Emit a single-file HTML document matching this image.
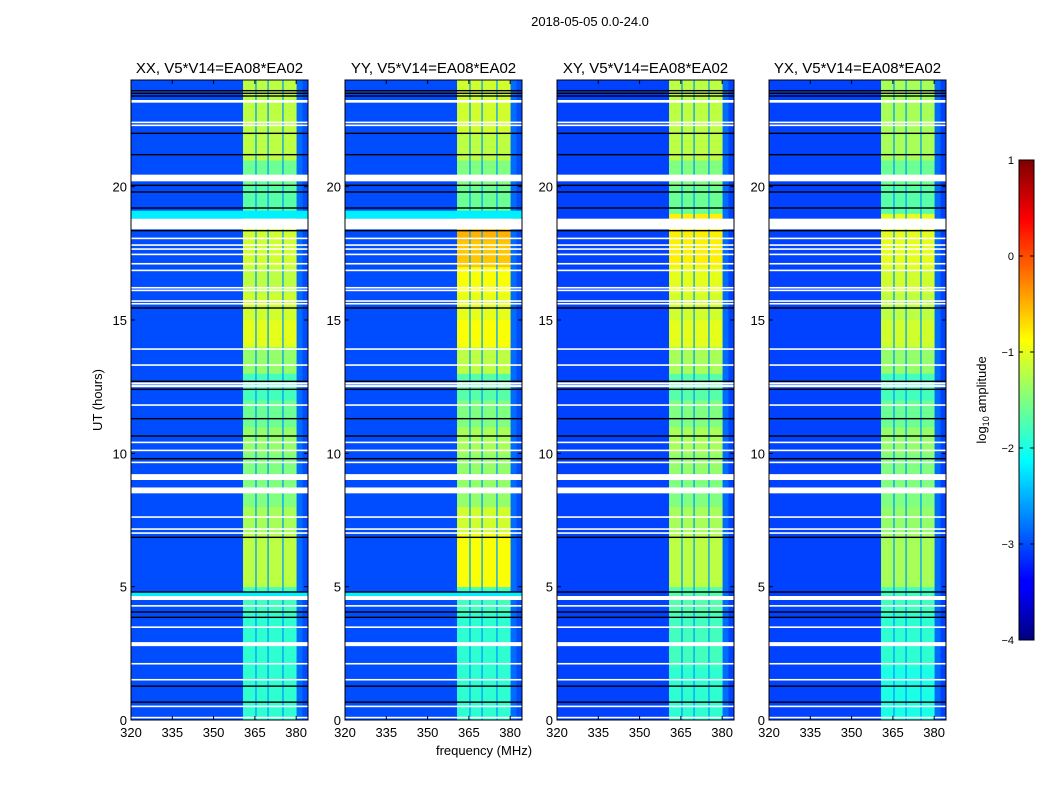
<!DOCTYPE html>
<html><head><meta charset="utf-8"><style>
body{margin:0;background:#fff;width:1050px;height:800px;overflow:hidden;font-family:"Liberation Sans",sans-serif}
svg text{font-family:"Liberation Sans",sans-serif}
</style></head><body>
<svg id="chart" width="1050" height="800" xmlns="http://www.w3.org/2000/svg">
<defs>
<linearGradient id="jet" x1="0" y1="1" x2="0" y2="0">
<stop offset="0" stop-color="#00007f"/><stop offset="0.11" stop-color="#0000ff"/><stop offset="0.125" stop-color="#0000ff"/>
<stop offset="0.375" stop-color="#00ffff"/><stop offset="0.625" stop-color="#ffff00"/><stop offset="0.875" stop-color="#ff0000"/><stop offset="1" stop-color="#7f0000"/>
</linearGradient>
</defs>
<text x="590" y="26" font-size="13" text-anchor="middle">2018-05-05 0.0-24.0</text>
<g id="panels"></g>
<text transform="translate(102,400) rotate(-90)" font-size="13" text-anchor="middle">UT (hours)</text>
<text x="484" y="755" font-size="13" text-anchor="middle">frequency (MHz)</text>
<g>
<rect x="1019" y="160" width="15" height="480" fill="url(#jet)" stroke="#000" stroke-width="1"/>
<g id="cbticks"></g>
<text transform="translate(986,400) rotate(-90)" font-size="13" text-anchor="middle">log<tspan font-size="9" dy="3">10</tspan><tspan dy="-3"> amplitude</tspan></text>
</g>
</svg>
<script>
const panelTitles=["XX, V5*V14=EA08*EA02","YY, V5*V14=EA08*EA02","XY, V5*V14=EA08*EA02","YX, V5*V14=EA08*EA02"];
const panelLeft=[131,345,557,769];
const xTicks=[320,335,350,365,380];
const yTicks=[0,5,10,15,20];
const cbTicks=[1,0,-1,-2,-3,-4];
const backgroundLevel=[-3.0,-3.0,-3.05,-3.05];
const bandStart=360.7, bandEnd=380.2;
const subbandDividers=[365.4,369.8,375.2];
// band log amplitude per hour (0..23), per panel
const bandXX=[-1.9,-1.9,-1.9,-1.9,-1.8,-1.2,-1.2,-1.3,-1.5,-1.5,-1.4,-1.6,-1.8,-1.4,-1.0,-1.1,-1.2,-1.1,-1.1,-1.7,-1.6,-1.2,-1.2,-1.2];
const bandYY=[-1.9,-1.9,-1.9,-1.9,-1.8,-0.9,-0.9,-1.1,-1.4,-1.4,-1.3,-1.5,-1.7,-1.2,-0.9,-1.0,-0.9,-0.6,-0.5,-1.6,-1.5,-1.2,-1.1,-1.1];
const bandXY=[-1.9,-1.9,-1.8,-1.8,-1.7,-1.2,-1.2,-1.3,-1.5,-1.4,-1.3,-1.5,-1.7,-1.3,-1.0,-1.1,-1.0,-0.8,-0.8,-1.6,-1.5,-1.2,-1.2,-1.2];
const bandYX=[-2.0,-2.0,-1.9,-1.9,-1.8,-1.3,-1.3,-1.4,-1.5,-1.5,-1.4,-1.6,-1.8,-1.4,-1.1,-1.2,-1.1,-1.0,-1.0,-1.7,-1.6,-1.3,-1.3,-1.3];
const bandLevels=[bandXX,bandYY,bandXY,bandYX];
// flagged (white) time ranges [start,end] hours
const flagStart=[23.15,22.38,22.27,20.2,18.4,15.58,15.68,16.08,16.18,16.83,17.08,17.43,17.63,17.78,18.03,13.88,13.28,12.48,12.58,11.78,10.38,10.08,9.63,9.0,8.5,7.58,7.13,6.98,4.5,4.25,3.45,2.77,2.08,1.48,0.48,0.06];
const flagEnd  =[23.25,22.44,22.33,20.45,18.8,15.64,15.74,16.14,16.24,16.89,17.14,17.49,17.69,17.84,18.09,13.94,13.34,12.56,12.66,11.84,10.44,10.14,9.69,9.22,8.72,7.64,7.19,7.04,4.65,4.31,3.51,2.92,2.14,1.54,0.54,0.12];
// black lines (hours)
const blackLines=[23.6,23.5,22.0,20.05,19.8,19.2,18.35,15.45,12.4,12.7,11.3,10.65,9.8,6.85,4.8,4.05,3.85,1.27,0.67,23.4,21.2];
// cyan stripes only for XX/YY
const cyanStart=[18.8,4.65];
const cyanEnd=[19.1,4.8];
const cyanLevel=[-2.2,-2.2];

const NS="http://www.w3.org/2000/svg";
const top0=80,bot0=720,W=177;
function yScale(h){return bot0-(h/24)*(bot0-top0);}
function xScale(p,f){return panelLeft[p]+(f-320)/64.3*W;}
function jet(v){const t=Math.max(0,Math.min(1,(v+4)/5));const c=x=>Math.round(255*Math.max(0,Math.min(1,x)));
return `rgb(${c(1.5-Math.abs(4*t-3))},${c(1.5-Math.abs(4*t-2))},${c(1.5-Math.abs(4*t-1))})`;}
function mk(tag,attrs,parent){const e=document.createElementNS(NS,tag);for(const k in attrs)e.setAttribute(k,attrs[k]);parent.appendChild(e);return e;}
const root=document.getElementById('panels');
for(let p=0;p<4;p++){
  const g=mk('g',{},root);
  
  
  const L=panelLeft[p];
  const bg=mk('rect',{x:L,y:top0,width:W,height:bot0-top0,fill:jet(backgroundLevel[p])},g);
  
  
  const lv=bandLevels[p];
  for(let h=0;h<24;h++){
    const r=mk('rect',{x:xScale(p,bandStart),y:yScale(h+1),width:xScale(p,bandEnd)-xScale(p,bandStart),height:yScale(h)-yScale(h+1)+0.5,fill:jet(lv[h])},g);
    
    
  }
  for(const f of subbandDividers){
    const r=mk('rect',{x:xScale(p,f)-0.8,y:top0,width:1.6,height:bot0-top0,fill:jet(-2.6),opacity:0.8},g);
    
    
  }
  const e=mk('rect',{x:xScale(p,380.2),y:top0,width:xScale(p,382.3)-xScale(p,380.2),height:bot0-top0,fill:jet(-2.85)},g);
  
  
  if(p<2){for(let i=0;i<cyanStart.length;i++){
    const r=mk('rect',{x:L,y:yScale(cyanEnd[i]),width:W,height:yScale(cyanStart[i])-yScale(cyanEnd[i]),fill:jet(cyanLevel[i])},g);
    
    
  }}
  for(const hb of blackLines){
    const r=mk('rect',{x:L,y:yScale(hb)-0.7,width:W,height:1.4,fill:'#000'},g);
    
    
  }
  for(let i=0;i<flagStart.length;i++){
    const r=mk('rect',{x:L,y:yScale(flagEnd[i]),width:W,height:Math.max(1.5,yScale(flagStart[i])-yScale(flagEnd[i])),fill:'#fff'},g);
    
    
  }
  const fr=mk('rect',{x:L,y:top0,width:W,height:bot0-top0,fill:'none',stroke:'#000','stroke-width':1},g);
  
  
  const t=mk('text',{x:L+W/2,y:73,'font-size':15,'text-anchor':'middle'},g);
  t.textContent=panelTitles[p];
  
  
  for(const xv of xTicks){
    const x=xScale(p,xv);
    mk('line',{x1:x,x2:x,y1:bot0,y2:bot0-4,stroke:'#000'},g);
    mk('line',{x1:x,x2:x,y1:top0,y2:top0+4,stroke:'#000'},g);
    const tx=mk('text',{x:x,y:737,'font-size':13,'text-anchor':'middle'},g);
    tx.textContent=xv;
    
    
  }
  for(const yv of yTicks){
    const y=yScale(yv);
    mk('line',{x1:L,x2:L+4,y1:y,y2:y,stroke:'#000'},g);
    mk('line',{x1:L+W,x2:L+W-4,y1:y,y2:y,stroke:'#000'},g);
    const ty=mk('text',{x:L-4,y:y+5,'font-size':13,'text-anchor':'end'},g);
    ty.textContent=yv;
    
    
  }
}
const cb=document.getElementById('cbticks');
for(const v of cbTicks){
  const y=640-(v+4)/5*480;
  mk('line',{x1:1019,x2:1023,y1:y,y2:y,stroke:'#000'},cb);
  mk('line',{x1:1034,x2:1030,y1:y,y2:y,stroke:'#000'},cb);
  const t=mk('text',{x:1014,y:y+4,'font-size':11,'text-anchor':'end'},cb);
  t.textContent=v<0?'\u2212'+(-v):String(v);
  
  
}
</script>
</body></html>
